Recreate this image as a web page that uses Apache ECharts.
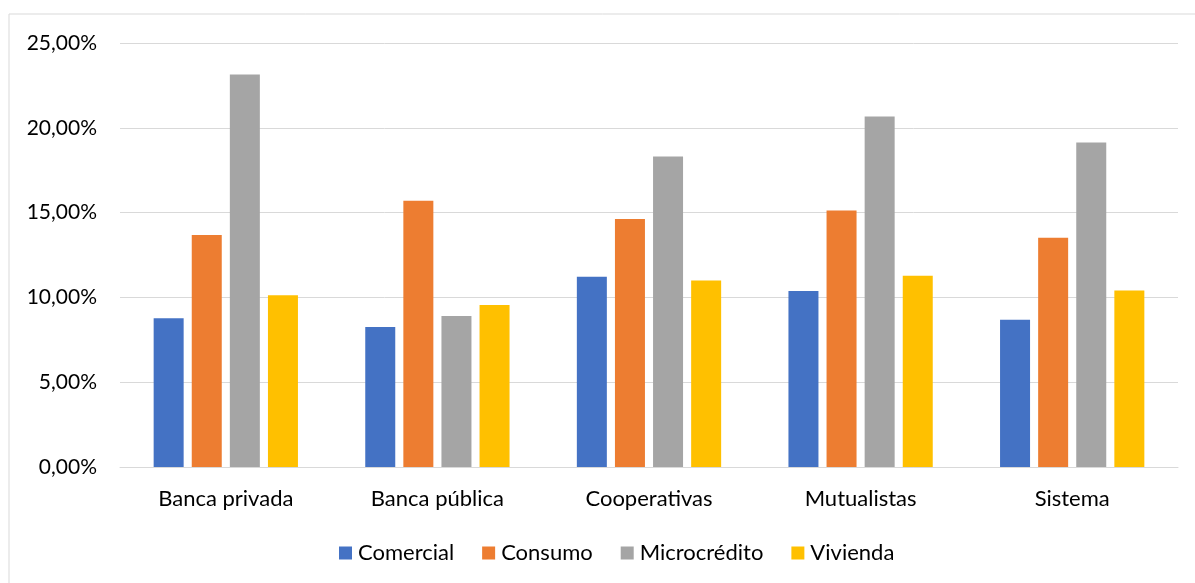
<!DOCTYPE html>
<html>
<head>
<meta charset="utf-8">
<script src="https://cdn.jsdelivr.net/npm/echarts@6/dist/echarts.min.js"></script>
<style>
  html, body { margin: 0; padding: 0; background: #ffffff; }
  #chart { width: 1195px; height: 583px; }
</style>
</head>
<body>
<div id="chart"></div>
<script>
// Tasa de morosidad por tipo de entidad y segmento de crédito
const categories = ['Banca privada', 'Banca pública', 'Cooperativas', 'Mutualistas', 'Sistema'];
const comercial    = [8.77, 8.25, 11.22, 10.38, 8.68];
const consumo      = [13.68, 15.70, 14.63, 15.12, 13.52];
const microcredito = [23.15, 8.90, 18.31, 20.67, 19.13];
const vivienda     = [10.12, 9.55, 11.00, 11.28, 10.40];

const seriesNames = ['Comercial', 'Consumo', 'Microcrédito', 'Vivienda'];
const seriesColors = ['#4472C4', '#ED7D31', '#A5A5A5', '#FFC000'];
const seriesData = [comercial, consumo, microcredito, vivienda];

const FONT = 'Lato, "Open Sans", sans-serif';

const chart = echarts.init(document.getElementById('chart'), null, { renderer: 'canvas' });

chart.setOption({
  animation: false,
  backgroundColor: '#ffffff',
  textStyle: { fontFamily: FONT, color: '#000000' },
  graphic: [{
    type: 'rect',
    shape: { x: 9, y: 14, width: 1190, height: 600 },
    style: { fill: 'none', stroke: '#D9D9D9', lineWidth: 1 },
    silent: true,
    z: -1
  }],
  grid: { left: 120, right: 17, top: 43, bottom: 116, containLabel: false },
  legend: {
    left: 334,
    top: 537,
    itemWidth: 13,
    itemHeight: 13,
    itemGap: 28,
    icon: 'rect',
    textStyle: { fontFamily: FONT, fontSize: 22, color: '#000000', padding: [0, 0, 0, 1] },
    data: seriesNames
  },
  xAxis: {
    type: 'category',
    data: categories,
    axisLine: { show: true, lineStyle: { color: '#D9D9D9', width: 1 } },
    axisTick: { show: false },
    axisLabel: { fontFamily: FONT, fontSize: 22, color: '#000000', margin: 21 }
  },
  yAxis: {
    type: 'value',
    min: 0,
    max: 25,
    interval: 5,
    axisLine: { show: false },
    axisTick: { show: false },
    splitLine: { lineStyle: { color: '#D9D9D9', width: 1 } },
    axisLabel: {
      fontFamily: FONT, fontSize: 21, color: '#000000', margin: 23,
      formatter: v => v.toFixed(2).replace('.', ',') + '%'
    }
  },
  series: seriesNames.map((name, i) => ({
    name,
    type: 'bar',
    data: seriesData[i],
    barWidth: 30,
    barGap: '27%',
    itemStyle: { color: seriesColors[i] }
  }))
});
</script>
</body>
</html>
